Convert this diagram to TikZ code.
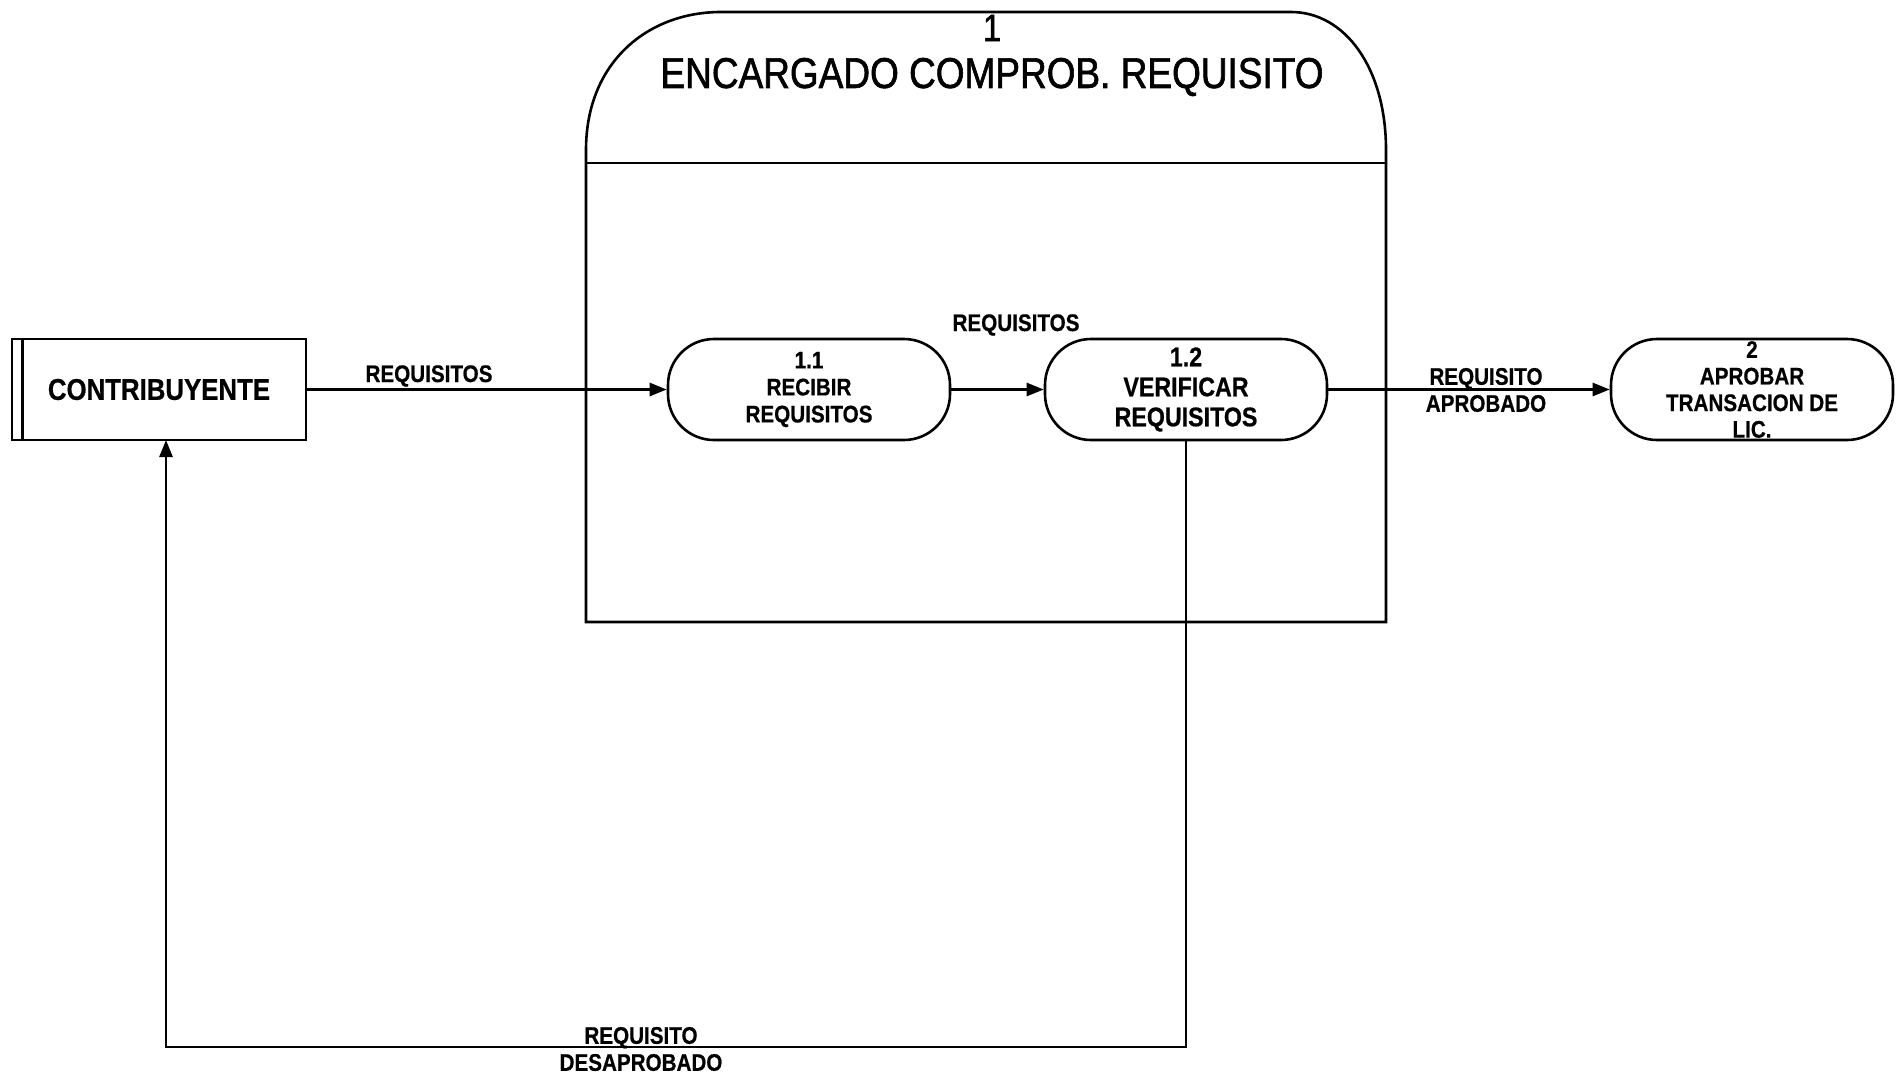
\documentclass[tikz,border=0pt]{standalone}
\usepackage{fontspec}
\setmainfont{Liberation Sans}[FakeStretch=0.86, BoldFeatures={FakeBold=0.6}]
\newfontfamily\titlefont{Liberation Sans}[FakeStretch=0.86, FakeBold=1.4]
\usetikzlibrary{arrows.meta}
\begin{document}
\begin{tikzpicture}[x=1pt,y=-1pt, line width=2.6pt,
  proc/.style={draw, rounded corners=46pt, minimum width=282pt, minimum height=101pt,
    align=center, inner sep=0pt, font=\fontsize{24}{27}\selectfont\bfseries},
  ent/.style={draw, minimum width=294pt, minimum height=101pt, inner sep=0pt,
    font=\fontsize{30}{34}\selectfont\bfseries},
  flow/.style={-{Triangle[length=17pt,width=13pt]}},
  lbl/.style={font=\fontsize{24}{27}\selectfont\bfseries, align=center, inner sep=0pt}]
\useasboundingbox (0,0) rectangle (1896,1076);
% container (process 1)
\draw (586,622) -- (586,150) .. controls (586,62) and (648,12) .. (721,12) -- (1291,12)
      .. controls (1345,12) and (1386,68) .. (1386,150) -- (1386,622) -- cycle;
\draw (586,163) -- (1386,163);
\node[font=\titlefont\fontsize{38}{40}\selectfont, inner sep=0pt] (t1) at (992,28) {1};
\node[font=\titlefont\fontsize{43}{46}\selectfont, inner sep=0pt] (t2) at (992,77) {ENCARGADO COMPROB. REQUISITO};
% nodes
\node[ent] (c) at (159,389.5) {CONTRIBUYENTE};
\draw ([xshift=12pt]c.north west) -- ([xshift=12pt]c.south west);
\node[proc] (r) at (809,389.5) {1.1\\RECIBIR\\REQUISITOS};
\node[proc, font=\fontsize{27}{30}\selectfont\bfseries] (v) at (1186,389.5) {1.2\\VERIFICAR\\REQUISITOS};
\node[proc, font=\fontsize{24}{26.6}\selectfont\bfseries] (a) at (1752,389.5) {2\\APROBAR\\TRANSACION DE\\LIC.};
% flows
\draw[flow] (c.east) -- (r.west);
\draw[flow] (r.east) -- (v.west);
\draw[flow] (v.east) -- (a.west);
\coordinate (bl) at (166,1047);
\coordinate (cin) at (166,440);
\draw[flow] (v.south) |- (bl) -- (cin);
% labels
\node[lbl] (l1) at (429,376) {REQUISITOS};
\node[lbl] (l2) at (1016,325) {REQUISITOS};
\node[lbl] (l3) at (1486,390) {REQUISITO\\APROBADO};
\node[lbl] (l4) at (641,1049) {REQUISITO\\DESAPROBADO};
\end{tikzpicture}
\end{document}
